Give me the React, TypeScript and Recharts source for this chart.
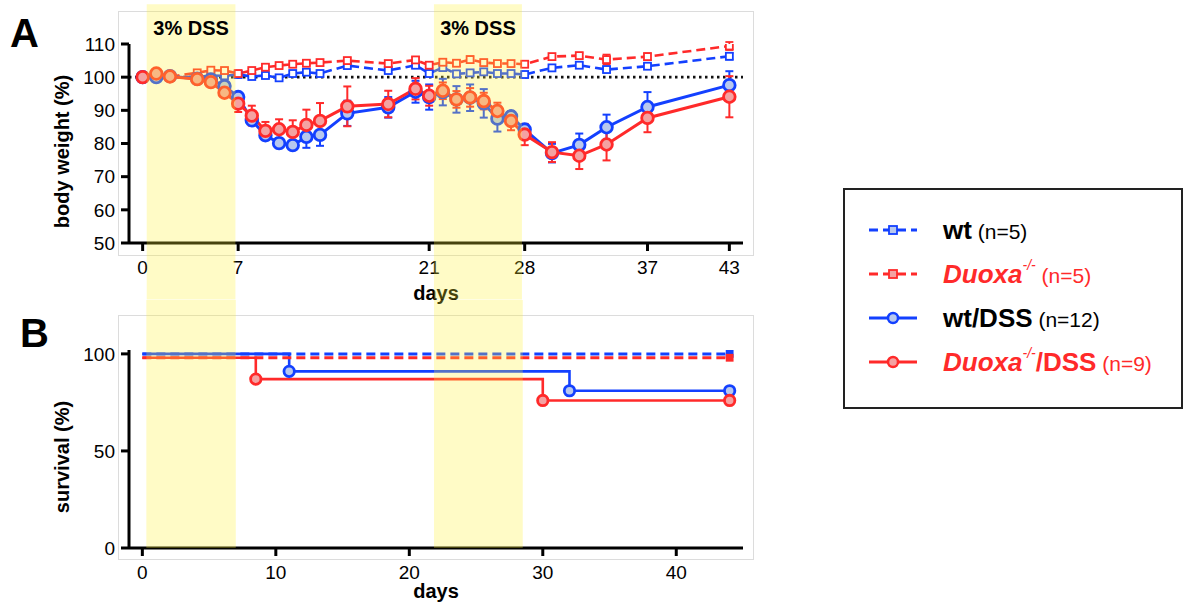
import React from 'react';
import { LineChart, Line, XAxis, YAxis, ErrorBar, ReferenceArea, ReferenceLine } from 'recharts';

// ---------- data: panel A (body weight %) ----------
const days = [0, 1, 2, 4, 5, 6, 7, 8, 9, 10, 11, 12, 13, 15, 18, 20, 21, 22, 23, 24, 25, 26, 27, 28, 30, 32, 34, 37, 43];
const wtWeight = [100, 100, 100.2, 100, 100.5, 100.4, 100.8, 100.2, 100.5, 99.8, 101.1, 101.5, 101.1, 103.5, 102, 103.6, 101.1, 102.9, 101, 101.3, 101.6, 101.1, 101.1, 100.8, 102.8, 103.6, 102.3, 103.3, 106.3];
const wtErr = [0, 0.3, 0.3, 0.4, 0.5, 0.5, 0.5, 0.5, 0.5, 0.6, 0.6, 0.6, 0.6, 0.8, 0.8, 0.8, 0.8, 1, 0.8, 0.8, 0.8, 0.8, 0.8, 0.8, 0.8, 0.8, 0.8, 0.8, 1];
const koWeight = [100, 100.4, 100.2, 101.3, 102.1, 102, 101.1, 102, 103, 103.5, 103.9, 104.2, 104.4, 105, 104.1, 105.2, 103.6, 104.5, 104.2, 105.3, 104.4, 104.1, 104.1, 103.9, 106.2, 106.5, 105.3, 106.2, 109.4];
const koErr = [0, 0.4, 0.3, 0.5, 0.6, 0.6, 0.6, 0.6, 0.6, 0.6, 0.6, 0.6, 0.6, 0.8, 0.8, 0.8, 0.8, 0.8, 0.8, 1, 0.8, 0.8, 0.8, 0.8, 0.8, 0.8, 1.5, 1, 1.2];
const wtDssWeight = [100, 100, 100.3, 99.5, 99.3, 97.3, 94, 87, 82.5, 80.1, 79.5, 82, 82.6, 89.1, 90.9, 95.6, 94, 95.5, 93.3, 93.8, 92.1, 87.5, 88.2, 84.2, 77.1, 79.6, 84.9, 91, 97.6];
const wtDssErr = [0, 0.3, 0.3, 0.4, 0.5, 0.8, 1, 1.2, 1.5, 1.5, 1.3, 3.3, 3.3, 3.8, 3.1, 3.3, 3.8, 4, 4, 4, 4.3, 3.9, 1.5, 1.5, 2.8, 3.4, 3.8, 4.5, 4.2];
const koDssWeight = [100, 101.1, 100.2, 99.4, 98.5, 95.3, 92, 88.4, 83.8, 84.3, 83.5, 85.6, 86.8, 91.2, 91.9, 96.5, 94.4, 95.9, 93.3, 93.9, 92.8, 89.8, 86.8, 82.7, 77.4, 76.3, 79.7, 87.7, 94.1];
const koDssErr = [0, 0.5, 0.4, 0.5, 0.6, 1, 2.5, 3, 2.7, 3, 3.5, 4.6, 5.4, 6, 4, 3.2, 3, 2.5, 2.5, 2.8, 2.5, 2.5, 2.8, 3.2, 3, 4, 4.8, 4.3, 6.2];

const weightTicksX = [0, 7, 21, 28, 37, 43];
const weightTicksY = [50, 60, 70, 80, 90, 100, 110];
const weightDomainX = [-1, 44];
const weightDomainY = [50, 110];
const dssPeriodsA = [[0.3, 6.8], [21.35, 27.8]];
const bandYA = [33, 122];

// ---------- data: panel B (survival %) ----------
const survWtDays = [0, 44];
const survWtValues = [100, 100];
const survKoDays = [0, 44];
const survKoValues = [98, 98];
const survWtDssDays = [0, 11, 32, 44];
const survWtDssValues = [100, 91, 81, 81];
const survKoDssDays = [0, 8.5, 30, 44];
const survKoDssValues = [98, 87, 76, 76];

const survivalTicksX = [0, 10, 20, 30, 40];
const survivalTicksY = [0, 50, 100];
const survivalDomainX = [-1, 45];
const survivalDomainY = [0, 102];
const dssPeriodsB = [[0.3, 7], [21.85, 28.5]];
const bandYB = [0, 128];

const dssLabel = '3% DSS';
const seriesNames = ['wt', 'Duoxa', 'wt/DSS', 'Duoxa/DSS'];
const seriesN = ['(n=5)', '(n=5)', '(n=12)', '(n=9)'];

// ---------- styles ----------
const FONT = '"Liberation Sans", Arial, Helvetica, sans-serif';
const BLUE = '#1340ff';
const RED = '#ff2a2a';
const BLUE_FILL = '#b8c8ee';
const RED_FILL = '#f4a2a2';
const BAND = '#fff232';

const weightData = days.map((d, i) => ({
  day: d,
  wt: wtWeight[i], wtErr: wtErr[i],
  ko: koWeight[i], koErr: koErr[i],
  wtDss: wtDssWeight[i], wtDssErr: wtDssErr[i],
  koDss: koDssWeight[i], koDssErr: koDssErr[i],
}));
const toSeries = (ds: number[], vs: number[]) => ds.map((d, i) => ({ day: d, v: vs[i] }));
const survWt = toSeries(survWtDays, survWtValues);
const survKo = toSeries(survKoDays, survKoValues);
const survWtDss = toSeries(survWtDssDays, survWtDssValues);
const survKoDss = toSeries(survKoDssDays, survKoDssValues);

function squareDot(color: string, fill: string, size: number, onlyLast = false, total = 0) {
  return (props: any) => {
    const { cx, cy, index } = props;
    if (cx == null || cy == null || (onlyLast && index !== total - 1)) return <g key={`sq-${index}`} />;
    return (
      <rect key={`sq-${index}`} x={cx - size / 2} y={cy - size / 2} width={size} height={size}
        fill={fill} stroke={color} strokeWidth={1.8} />
    );
  };
}
function circleDot(color: string, fill: string, r: number, skipFirst = false) {
  return (props: any) => {
    const { cx, cy, index } = props;
    if (cx == null || cy == null || (skipFirst && index === 0)) return <g key={`c-${index}`} />;
    return <circle key={`c-${index}`} cx={cx} cy={cy} r={r} fill={fill} stroke={color} strokeWidth={2.8} />;
  };
}

const axisLine = { stroke: '#000', strokeWidth: 3 };
const tickLine = { stroke: '#000', strokeWidth: 3 };
const tickStyle = { fill: '#000', fontSize: 19, fontFamily: FONT };

function xTitle(text: string, baselineOffset: number) {
  return (props: any) => {
    const vb = props.viewBox || {};
    return (
      <text x={vb.x + vb.width / 2} y={vb.y + baselineOffset} textAnchor="middle"
        style={{ fontFamily: FONT, fontWeight: 'bold', fontSize: 20, fill: '#000' }}>{text}</text>
    );
  };
}
function yTitle(text: string, cx: number, shift: number) {
  return (props: any) => {
    const vb = props.viewBox || {};
    const cy = vb.y + vb.height / 2 + shift;
    return (
      <text x={cx} y={cy} textAnchor="middle" dominantBaseline="central" transform={`rotate(-90, ${cx}, ${cy})`}
        style={{ fontFamily: FONT, fontWeight: 'bold', fontSize: 20, fill: '#000' }}>{text}</text>
    );
  };
}

const frameStyle = (top: number): React.CSSProperties => ({
  position: 'absolute', left: 118, top, width: 636, height: 245, border: '1px solid #dcdcdc', boxSizing: 'border-box',
});

function WeightChart() {
  return (
    <LineChart width={770} height={305} data={weightData} margin={{ top: 44, right: 27, bottom: 0, left: 0 }}>
      <XAxis type="number" dataKey="day" domain={weightDomainX} ticks={weightTicksX} allowDataOverflow
        axisLine={axisLine} tickLine={tickLine} tickSize={8} tickMargin={10} tick={tickStyle} height={62}
        label={xTitle('days', 57)} />
      <YAxis type="number" domain={weightDomainY} ticks={weightTicksY} allowDataOverflow width={129}
        axisLine={axisLine} tickLine={tickLine} tickSize={8} tickMargin={6} tick={tickStyle}
        label={yTitle('body weight (%)', 62, 8)} />
      <ReferenceLine y={100} stroke="#111" strokeWidth={2.6} strokeDasharray="2.5 3.5" />
      <Line dataKey="wt" stroke={BLUE} strokeWidth={2.6} strokeDasharray="9 5" isAnimationActive={false}
        dot={squareDot(BLUE, '#fff', 7)} activeDot={false}>
        <ErrorBar dataKey="wtErr" stroke={BLUE} strokeWidth={1.8} width={4} direction="y" />
      </Line>
      <Line dataKey="ko" stroke={RED} strokeWidth={2.6} strokeDasharray="9 5" isAnimationActive={false}
        dot={squareDot(RED, '#fff', 7)} activeDot={false}>
        <ErrorBar dataKey="koErr" stroke={RED} strokeWidth={1.8} width={4} direction="y" />
      </Line>
      <Line dataKey="wtDss" stroke={BLUE} strokeWidth={3} isAnimationActive={false}
        dot={circleDot(BLUE, BLUE_FILL, 5.8)} activeDot={false}>
        <ErrorBar dataKey="wtDssErr" stroke={BLUE} strokeWidth={2} width={4} direction="y" />
      </Line>
      <Line dataKey="koDss" stroke={RED} strokeWidth={3} isAnimationActive={false}
        dot={circleDot(RED, RED_FILL, 5.8)} activeDot={false}>
        <ErrorBar dataKey="koDssErr" stroke={RED} strokeWidth={2} width={4} direction="y" />
      </Line>
      {dssPeriodsA.map(([a, b], i) => (
        <ReferenceArea key={`ba-${i}`} x1={a} x2={b} y1={bandYA[0]} y2={bandYA[1]} ifOverflow="visible"
          fill={BAND} fillOpacity={0.28} stroke="none" zIndex={2000} />
      ))}
      {dssPeriodsA.map(([a, b], i) => (
        <ReferenceArea key={`bl-${i}`} x1={a} x2={b} y1={bandYA[0]} y2={bandYA[1]} ifOverflow="visible"
          fill="none" fillOpacity={0} stroke="none" zIndex={2100}
          label={{ value: dssLabel, position: 'insideTop', offset: 17, fill: '#000', fontSize: 20, fontWeight: 'bold', fontFamily: FONT }} />
      ))}
    </LineChart>
  );
}

function SurvivalChart() {
  return (
    <LineChart width={770} height={309} margin={{ top: 50, right: 27, bottom: 0, left: 0 }}>
      <XAxis type="number" dataKey="day" domain={survivalDomainX} ticks={survivalTicksX} allowDataOverflow
        axisLine={axisLine} tickLine={tickLine} tickSize={8} tickMargin={10} tick={tickStyle} height={61}
        label={xTitle('days', 50)} />
      <YAxis type="number" dataKey="v" domain={survivalDomainY} ticks={survivalTicksY} allowDataOverflow width={129}
        axisLine={axisLine} tickLine={tickLine} tickSize={8} tickMargin={6} tick={tickStyle}
        label={yTitle('survival (%)', 62, 8)} />
      <Line data={survWtDss} dataKey="v" type="stepAfter" stroke={BLUE} strokeWidth={2.6} isAnimationActive={false}
        dot={circleDot(BLUE, BLUE_FILL, 5.2, true)} activeDot={false} />
      <Line data={survKoDss} dataKey="v" type="stepAfter" stroke={RED} strokeWidth={2.6} isAnimationActive={false}
        dot={circleDot(RED, RED_FILL, 5.2, true)} activeDot={false} />
      <Line data={survWt} dataKey="v" type="stepAfter" stroke={BLUE} strokeWidth={3} strokeDasharray="9 5" isAnimationActive={false}
        dot={squareDot(BLUE, BLUE, 6, true, survWt.length)} activeDot={false} />
      <Line data={survKo} dataKey="v" type="stepAfter" stroke={RED} strokeWidth={3} strokeDasharray="9 5" isAnimationActive={false}
        dot={squareDot(RED, RED, 6, true, survKo.length)} activeDot={false} />
      {dssPeriodsB.map(([a, b], i) => (
        <ReferenceArea key={`bb-${i}`} x1={a} x2={b} y1={bandYB[0]} y2={bandYB[1]} ifOverflow="visible"
          fill={BAND} fillOpacity={0.28} stroke="none" zIndex={2000} />
      ))}
    </LineChart>
  );
}

function LegendIcon({ color, fill, dashed, square }: any) {
  return (
    <svg width={48} height={18} style={{ display: 'block' }}>
      <line x1={0} y1={9} x2={48} y2={9} stroke={color} strokeWidth={3} strokeDasharray={dashed ? '9 5' : undefined} />
      {square
        ? <rect x={20} y={5} width={8} height={8} fill={fill} stroke={color} strokeWidth={1.8} />
        : <circle cx={24} cy={9} r={5} fill={fill} stroke={color} strokeWidth={2.5} />}
    </svg>
  );
}

function Legend() {
  const items = [
    { color: BLUE, fill: BLUE_FILL, dashed: true, square: true, ko: false },
    { color: RED, fill: RED_FILL, dashed: true, square: true, ko: true },
    { color: BLUE, fill: BLUE_FILL, dashed: false, square: false, ko: false },
    { color: RED, fill: RED_FILL, dashed: false, square: false, ko: true },
  ];
  return (
    <div style={{ position: 'absolute', left: 843, top: 188, width: 340, height: 221, border: '2px solid #222',
      boxSizing: 'border-box', paddingTop: 18, paddingLeft: 24, fontFamily: FONT, background: '#fff' }}>
      {items.map((it, i) => {
        const name = seriesNames[i];
        const txtColor = it.ko ? RED : '#000';
        return (
          <div key={i} style={{ height: 44, display: 'flex', alignItems: 'center' }}>
            <LegendIcon {...it} />
            <div style={{ marginLeft: 26, color: txtColor, whiteSpace: 'nowrap' }}>
              {it.ko ? (
                <span style={{ fontWeight: 'bold', fontSize: 26 }}>
                  <i>{name.split('/')[0]}</i>
                  <sup style={{ fontSize: 14, fontStyle: 'italic', fontWeight: 'normal', verticalAlign: 'top', position: 'relative', top: -2 }}>-/-</sup>
                  {name.includes('/') ? '/DSS' : ''}
                </span>
              ) : (
                <span style={{ fontWeight: 'bold', fontSize: 26 }}>{name}</span>
              )}
              <span style={{ fontSize: 21 }}> {seriesN[i]}</span>
            </div>
          </div>
        );
      })}
    </div>
  );
}

const panelLetter = (letter: string, left: number, top: number): React.ReactNode => (
  <div style={{ position: 'absolute', left, top, fontFamily: FONT, fontWeight: 'bold', fontSize: 40, lineHeight: '40px' }}>{letter}</div>
);

export default function App() {
  return (
    <div style={{ position: 'relative', width: 1186, height: 609, background: '#fff', overflow: 'hidden' }}>
      <style>{'html,body{margin:0;padding:0;overflow:hidden;}'}</style>
      <div style={frameStyle(11)} />
      <div style={frameStyle(315)} />
      <div style={{ position: 'absolute', left: 0, top: 0 }}><WeightChart /></div>
      <div style={{ position: 'absolute', left: 0, top: 300 }}><SurvivalChart /></div>
      {panelLetter('A', 10, 13)}
      {panelLetter('B', 20, 313)}
      <Legend />
    </div>
  );
}
